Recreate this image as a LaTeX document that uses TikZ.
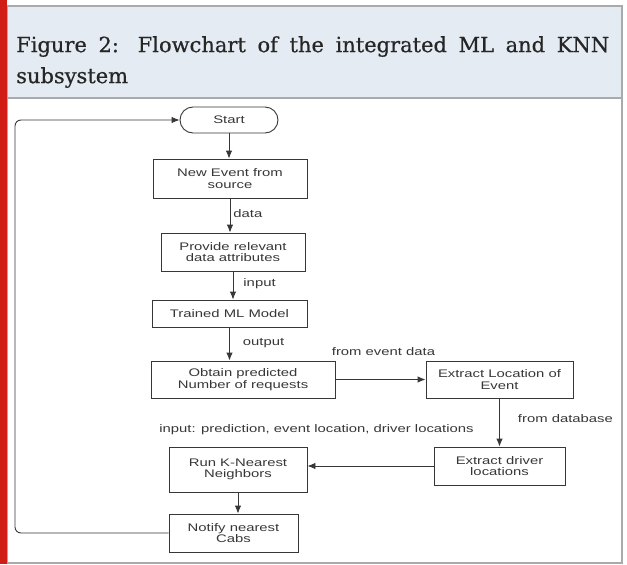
\documentclass[tikz,border=0pt]{standalone}
\usepackage{fontspec}
\setmainfont{Liberation Serif}
\newfontfamily\chartfont[FakeStretch=1.35]{Liberation Sans}
\newfontfamily\capfont[FakeBold=0.6]{DejaVu Serif}
\usetikzlibrary{arrows.meta}
\definecolor{capbg}{RGB}{228,235,242}
\definecolor{framegray}{RGB}{170,170,172}
\definecolor{barred}{RGB}{208,30,22}
\definecolor{ink}{RGB}{55,55,55}

\begin{document}
\begin{tikzpicture}[x=1pt, y=-1pt,
        >={Latex[length=8pt,width=6.5pt]},
        box/.style={draw=ink, line width=0.9pt, inner sep=0pt, align=center, text=ink, font=\chartfont\fontsize{11}{11.5}\selectfont},
        term/.style={box, rounded corners=13pt},
        lbl/.style={text=ink, inner sep=0pt, font=\chartfont\fontsize{11}{11.5}\selectfont},
        link/.style={draw=ink, line width=0.9pt, ->}]
    \useasboundingbox (0,0) rectangle (627,565);

    % frame, caption band and red bar
    \fill[capbg] (7,6) rectangle (622,97);
    \draw[framegray, line width=2pt] (7,6) rectangle (622,563);
    \draw[framegray, line width=2pt] (7,97.5) -- (622,97.5);
    \fill[barred] (0,0) rectangle (7,564);

    \node[anchor=north west, inner sep=0pt, text width=593pt, align=justify, text=black!85,
        font=\capfont\fontsize{21}{31}\selectfont] (cap) at (16,36)
        {Figure 2: Flowchart of the integrated ML and KNN\linebreak subsystem};

    \node[term, minimum width=98pt, minimum height=26pt] (Start) at (229,120) {Start};
    \node[box, minimum width=154pt, minimum height=39pt] (Event) at (230,178.5) {New Event from\\source};
    \node[box, minimum width=144pt, minimum height=38pt] (Attr) at (233,252) {Provide relevant\\data attributes};
    \node[box, minimum width=155pt, minimum height=27pt] (Model) at (229.5,313.5) {Trained ML Model};
    \node[box, minimum width=184pt, minimum height=37pt] (Pred) at (243,379.5) {Obtain predicted\\Number of requests};
    \node[box, minimum width=147pt, minimum height=37pt] (Loc) at (499.5,379.5) {Extract Location of\\Event};
    \node[box, minimum width=131pt, minimum height=38pt] (Drv) at (499.5,466) {Extract driver\\locations};
    \node[box, minimum width=138pt, minimum height=45pt] (KNN) at (238,469.5) {Run K-Nearest\\Neighbors};
    \node[box, minimum width=129pt, minimum height=38pt] (Notify) at (233.5,533) {Notify nearest\\Cabs};
    \coordinate (back) at (15,0);

    \draw[link] (Start) -- (Start |- Event.north);
    \draw[link] (Event.south) -- (Event.south |- Attr.north) node[lbl, midway, right, xshift=3pt, yshift=2pt] {data};
    \draw[link] (Attr.south) -- (Attr.south |- Model.north) node[lbl, midway, right, xshift=10pt, yshift=2pt] {input};
    \draw[link] (Model.south) -- (Model.south |- Pred.north) node[lbl, midway, right, xshift=13pt, yshift=1pt] {output};
    \draw[link] (Pred) -- (Loc) node[lbl, midway, above, xshift=3pt, yshift=23pt] {from event data};
    \draw[link] (Loc) -- (Loc |- Drv.north) node[lbl, midway, right, xshift=18pt, yshift=4pt] {from database};
    \draw[link] (Drv.west) -- (Drv.west -| KNN.east) node[lbl, midway, above, xshift=-54pt, yshift=31pt] {input: prediction, event location, driver locations};
    \draw[link] (KNN.south) -- (KNN.south |- Notify.north);
    \draw[link, rounded corners=6pt] (Notify.west) -- (Notify.west -| back) -- (Start.west -| back) -- (Start.west);
\end{tikzpicture}
\end{document}
